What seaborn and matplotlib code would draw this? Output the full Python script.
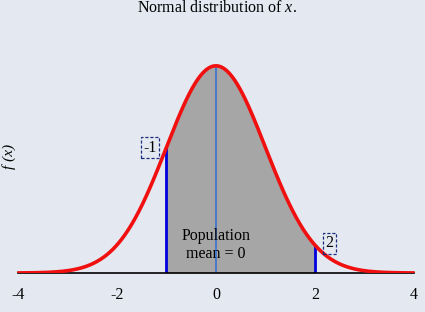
import numpy as np
import pandas as pd
import matplotlib
matplotlib.use("Agg")
import matplotlib.pyplot as plt
import seaborn as sns

# Chart parameters (normal distribution of x)
mean = 0.0
sd = 1.0
x_range = [-4, 4]
shade_bounds = [-1, 2]
tick_values = [-4, -2, 0, 2, 4]
tick_labels = ["-4", "-2", "0", "2", "4"]
title_text = "Normal distribution of "
ylabel_text = "f (x)"
mean_label = "Population\nmean = 0"
bound_labels = ["-1", "2"]

bg = "#e4e9f1"
sns.set_theme(style="white")
plt.rcParams["font.family"] = ["Liberation Serif", "DejaVu Serif"]
plt.rcParams["mathtext.fontset"] = "custom"
plt.rcParams["mathtext.it"] = "Liberation Serif:italic"
plt.rcParams["mathtext.rm"] = "Liberation Serif"
plt.rcParams["text.color"] = "black"
plt.rcParams["axes.labelcolor"] = "black"
plt.rcParams["xtick.color"] = "black"

x = np.linspace(x_range[0], x_range[1], 801)
pdf = np.exp(-0.5 * ((x - mean) / sd) ** 2) / (sd * np.sqrt(2 * np.pi))
df = pd.DataFrame({"x": x, "f": pdf})

fig = plt.figure(figsize=(4.25, 3.12), dpi=100, facecolor=bg)
ax = fig.add_axes([0.04, 0.125, 0.936, 0.749])
ax.set_facecolor(bg)

mask = (x >= shade_bounds[0]) & (x <= shade_bounds[1])
ax.fill_between(x[mask], 0, pdf[mask], color="#a6a6a6", lw=0, zorder=1)

def f_at(v):
    return np.exp(-0.5 * ((v - mean) / sd) ** 2) / (sd * np.sqrt(2 * np.pi))

ax.vlines(mean, 0, f_at(mean), color="#4a78c8", lw=1.4, zorder=2)
for b in shade_bounds:
    ax.vlines(b, 0, f_at(b), color="#0000dd", lw=2, zorder=2)

sns.lineplot(data=df, x="x", y="f", color="#f01010", lw=2.6, ax=ax, zorder=3)

ax.set_xlim(x_range[0] - 0.02, x_range[1] + 0.02)
ax.set_ylim(0, 0.45)
ax.set_xticks(tick_values)
ax.set_xticklabels(tick_labels, fontsize=11.5, color="black")
ax.set_yticks([])
ax.set_xlabel("")
ax.set_ylabel(ylabel_text, fontsize=11, style="italic", labelpad=1, color="black")
for s in ["left", "right", "top"]:
    ax.spines[s].set_visible(False)
ax.spines["bottom"].set_color("black")
ax.spines["bottom"].set_linewidth(1.2)
ax.spines["bottom"].set_bounds(x_range[0], x_range[1])
ax.tick_params(axis="x", direction="out", length=4, width=1, color="black", pad=6)

fig.text(0.51, 1.0, title_text + r"$\it{x}$.", ha="center", va="top", fontsize=11.5, color="black")

ax.text(0.0, 0.0215, mean_label, ha="center", va="bottom", fontsize=11.5,
        linespacing=1.15, zorder=4, color="black")

box = dict(boxstyle="square,pad=0.15", fc="none", ec="#1a2a7a", ls=(0, (2.5, 1.5)), lw=0.9)
ax.text(-1.34, 0.241, bound_labels[0], ha="center", va="center", fontsize=11.5, bbox=box, zorder=4, color="black")
ax.text(2.3, 0.057, bound_labels[1], ha="center", va="center", fontsize=11.5, bbox=box, zorder=4, color="black")

fig.savefig("out.png", dpi=100, facecolor=bg)
